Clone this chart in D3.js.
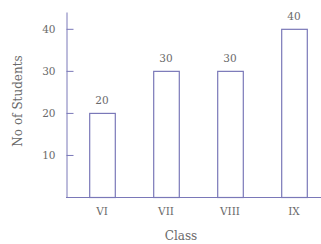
<!DOCTYPE html>
<html>
<head>
<meta charset="utf-8">
<script src="https://cdn.jsdelivr.net/npm/d3@7"></script>
<style>
  body { margin: 0; background: #fff; }
  text { font-family: "DejaVu Serif", serif; fill: #6a6a6a; }
</style>
</head>
<body>
<div class="chart-area"></div>
<script>
let classes = ["VI", "VII", "VIII", "IX"];
let students = [20, 30, 30, 40];
let yTicks = [10, 20, 30, 40];

let width = 321, height = 244,
  x0 = 66, base = 197;

let line = "#7a78b8";
let font = "DejaVu Serif, serif";

let svg = d3.select("div.chart-area").append("svg")
  .attr("width", width)
  .attr("height", height);

let x = d3.scaleBand()
  .domain(classes)
  .range([70, 326])
  .paddingInner(0.6)
  .paddingOuter(0.3);

let y = d3.scaleLinear()
  .domain([0, 44])
  .range([base, 12]);

// bars
svg.selectAll(".bar")
  .data(classes)
  .enter().append("rect")
  .attr("class", "bar")
  .attr("x", function(d) { return x(d) + 0.5; })
  .attr("y", function(d, i) { return y(students[i]) + 0.5; })
  .attr("width", x.bandwidth())
  .attr("height", function(d, i) { return base - y(students[i]); })
  .attr("fill", "none")
  .attr("stroke", line)
  .attr("stroke-width", 1.2);

svg.selectAll(".val")
  .data(classes)
  .enter().append("text")
  .attr("class", "val")
  .attr("x", function(d) { return x(d) + x.bandwidth() / 2; })
  .attr("y", function(d, i) { return y(students[i]) - 9; })
  .attr("text-anchor", "middle")
  .attr("font-size", 10.5)
  .text(function(d, i) { return students[i]; });

// y axis
let yAxis = svg.append("g")
  .attr("transform", "translate(" + (x0 + 0.5) + ",0)")
  .call(d3.axisRight(y).tickValues(yTicks).tickSize(7).tickSizeOuter(0));
yAxis.select(".domain").attr("stroke", line);
yAxis.selectAll(".tick line").attr("stroke", line);
yAxis.selectAll(".tick text")
  .attr("text-anchor", "end")
  .attr("x", -11)
  .attr("font-size", 10.5)
  .attr("font-family", font)
  .attr("fill", "#6a6a6a");

// x axis
let xAxis = svg.append("g")
  .attr("transform", "translate(0," + (base + 0.5) + ")")
  .call(d3.axisBottom(x).tickSize(0).tickPadding(10));
xAxis.select(".domain").remove();
svg.append("line")
  .attr("x1", x0).attr("x2", width)
  .attr("y1", base + 0.5).attr("y2", base + 0.5)
  .attr("stroke", line);
xAxis.selectAll(".tick text")
  .attr("font-size", 10.5)
  .attr("font-family", font)
  .attr("fill", "#6a6a6a");

svg.append("text")
  .attr("x", 181)
  .attr("y", 240)
  .attr("text-anchor", "middle")
  .attr("font-size", 12)
  .text("Class");

svg.append("text")
  .attr("transform", "translate(22,101) rotate(-90)")
  .attr("text-anchor", "middle")
  .attr("font-size", 12)
  .text("No of Students");
</script>
</body>
</html>
